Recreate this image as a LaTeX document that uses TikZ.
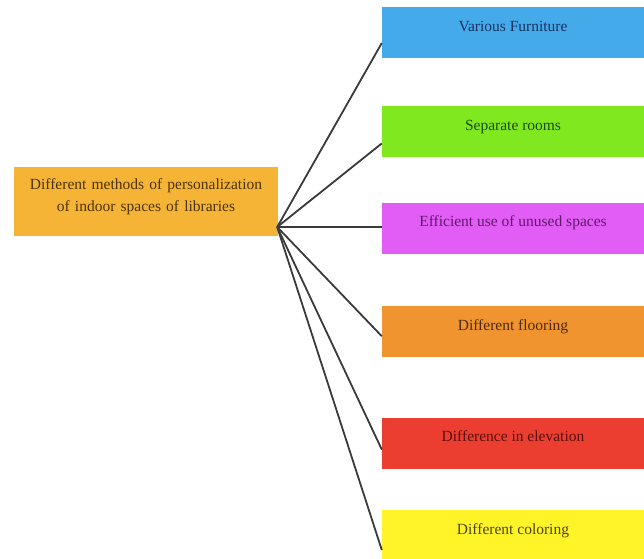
\documentclass[tikz,border=0pt]{standalone}
\usepackage{fontspec}
\setmainfont{Liberation Serif}
\usetikzlibrary{positioning}
\definecolor{hubfill}{HTML}{F6B436}
\definecolor{hubtext}{HTML}{4A3208}
\definecolor{linegray}{HTML}{3A3A3A}
\tikzstyle{method}=[
	rectangle,
	inner sep=0pt,
	minimum width=262pt,
	text height=24pt,
	text depth=27pt,
	font=\fontsize{15.5}{19}\selectfont,
	node distance=48pt
]
\tikzstyle{topic}=[
	rectangle,
	inner sep=0pt,
	fill=hubfill,
	text=hubtext,
	text width=264pt,
	align=center,
	text height=22pt,
	text depth=47pt,
	font=\fontsize{15.5}{22}\selectfont
]
\tikzstyle{link}=[
	draw=linegray,
	line width=1.8pt
]

\begin{document}
\begin{tikzpicture}[x=1pt,y=-1pt]
\useasboundingbox (0,0) rectangle (644,558);
\node [topic] (Personalization) at (146,201.5) {Different methods of personalization\\of indoor spaces of libraries};
\node [method, fill={rgb,255:red,69;green,170;blue,234}, text={rgb,255:red,23;green,51;blue,95}] (VariousFurniture) at (513,32.5) {Various Furniture};
\node [method, fill={rgb,255:red,128;green,232;blue,30}, text={rgb,255:red,30;green,74;blue,5}] (SeparateRooms)[below=48pt of VariousFurniture] {Separate rooms};
\node [method, fill={rgb,255:red,226;green,92;blue,246}, text={rgb,255:red,94;green,26;blue,106}] (UnusedSpaces)[below=45pt of SeparateRooms] {Efficient use of unused spaces};
\node [method, fill={rgb,255:red,240;green,148;blue,48}, text={rgb,255:red,78;green,42;blue,8}] (Flooring)[below=52pt of UnusedSpaces] {Different flooring};
\node [method, fill={rgb,255:red,236;green,62;blue,48}, text={rgb,255:red,90;green,16;blue,16}] (Elevation)[below=60pt of Flooring] {Difference in elevation};
\node [method, fill={rgb,255:red,255;green,244;blue,40}, text={rgb,255:red,74;green,69;blue,8}] (Coloring)[below=41pt of Elevation] {Different coloring};
\coordinate (Hub) at ([xshift=-1pt,yshift=-25.5pt]Personalization.east);
\path (Hub)
	edge [link] ([yshift=-10.5pt]VariousFurniture.west)
	edge [link] ([yshift=-11.5pt]SeparateRooms.west)
	edge [link] (UnusedSpaces.west |- Hub)
	edge [link] ([yshift=-4.5pt]Flooring.west)
	edge [link] ([yshift=-6.5pt]Elevation.west)
	edge [link] ([yshift=-14.5pt]Coloring.west);
\end{tikzpicture}
\end{document}
